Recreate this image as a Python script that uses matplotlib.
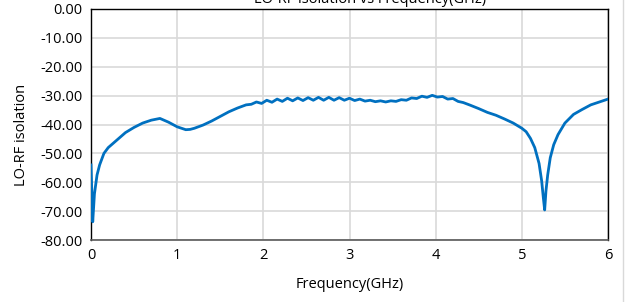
import matplotlib
matplotlib.use("Agg")
import matplotlib.pyplot as plt
from matplotlib.lines import Line2D

freq = [0.0, 0.02, 0.04, 0.07, 0.1, 0.15, 0.2, 0.3, 0.4, 0.5, 0.6, 0.7, 0.8, 0.9,
        1.0, 1.1, 1.15, 1.2, 1.3, 1.4, 1.5, 1.6, 1.7, 1.8,
        1.86, 1.92, 1.98, 2.04, 2.10, 2.16, 2.22, 2.28, 2.34, 2.40, 2.46, 2.52,
        2.58, 2.64, 2.70, 2.76, 2.82, 2.88, 2.94, 3.00, 3.06, 3.12, 3.18, 3.24,
        3.30, 3.36, 3.42, 3.48, 3.54, 3.60, 3.66, 3.72, 3.78, 3.84, 3.90, 3.96,
        4.02, 4.08, 4.14, 4.20, 4.26, 4.32, 4.40, 4.50, 4.60, 4.70, 4.80, 4.90,
        5.00, 5.05, 5.10, 5.15, 5.20, 5.23, 5.25, 5.265, 5.28, 5.30, 5.33, 5.37,
        5.42, 5.50, 5.60, 5.70, 5.80, 5.90, 6.00]
isolation = [-54.0, -73.7, -64.0, -57.5, -54.0, -50.0, -48.0, -45.4, -42.8, -41.0,
             -39.5, -38.5, -37.9, -39.2, -40.8, -41.8, -41.7, -41.3, -40.2, -38.8,
             -37.2, -35.6, -34.3, -33.2,
             -33.0, -32.2, -32.7, -31.6, -32.3, -31.2, -32.0, -30.9, -31.8, -30.8,
             -31.7, -30.7, -31.6, -30.6, -31.6, -30.6, -31.6, -30.7, -31.6, -30.9,
             -31.7, -31.2, -31.9, -31.6, -32.1, -31.8, -32.2, -31.8, -32.0, -31.4,
             -31.6, -30.8, -31.0, -30.2, -30.6, -29.9, -30.5, -30.3, -31.2, -31.0,
             -32.0, -32.4, -33.3, -34.5, -35.8, -36.8, -38.1, -39.5,
             -41.3, -42.5, -44.8, -48.0, -53.5, -59.5, -65.5, -69.6, -63.0, -57.5,
             -51.5, -47.0, -43.5, -39.5, -36.5, -34.8, -33.2, -32.2, -31.2]

xticks = [0, 1, 2, 3, 4, 5, 6]
yticks = [0, -10, -20, -30, -40, -50, -60, -70, -80]
ytick_labels = ["0.00", "-10.00", "-20.00", "-30.00", "-40.00", "-50.00", "-60.00", "-70.00", "-80.00"]

plt.rcParams['font.family'] = ['Open Sans', 'DejaVu Sans']
W, H = 626, 302
fig = plt.figure(figsize=(W / 100, H / 100), dpi=100)
ax = fig.add_axes([91 / W, 1 - 240 / H, (608 - 91) / W, (240 - 9) / H])

ax.plot(freq, isolation, color="#0070C0", linewidth=2.0, zorder=3)
ax.set_xlim(0, 6)
ax.set_ylim(-80, 0)
ax.set_xticks(xticks)
ax.set_xticklabels([str(t) for t in xticks])
ax.set_yticks(yticks)
ax.set_yticklabels(ytick_labels)
ax.grid(True, color="#d9d9d9", linewidth=1.2)
ax.set_axisbelow(True)
ax.tick_params(length=0, labelsize=10.5, colors="#000000", pad=6)
for s in ["left", "top", "right"]:
    ax.spines[s].set_color("#000000")
    ax.spines[s].set_linewidth(1.0)
ax.spines["bottom"].set_color("#595959")
ax.spines["bottom"].set_linewidth(1.2)

fig.text(22 / W, 1 - 135 / H, "LO-RF isolation", rotation=90, ha="center", va="center", fontsize=10.5)
fig.text(350 / W, 1 - 285 / H, "Frequency(GHz)", ha="center", va="center", fontsize=10.5)
fig.text(370 / W, 1 - 3 / H, "LO-RF isolation vs Frequency(GHz)", ha="center", va="baseline", fontsize=10.5)
fig.add_artist(Line2D([623 / W, 623 / W], [0, 1], color="#d9d9d9", linewidth=1.0, transform=fig.transFigure))

fig.savefig("out.png", dpi=100)
